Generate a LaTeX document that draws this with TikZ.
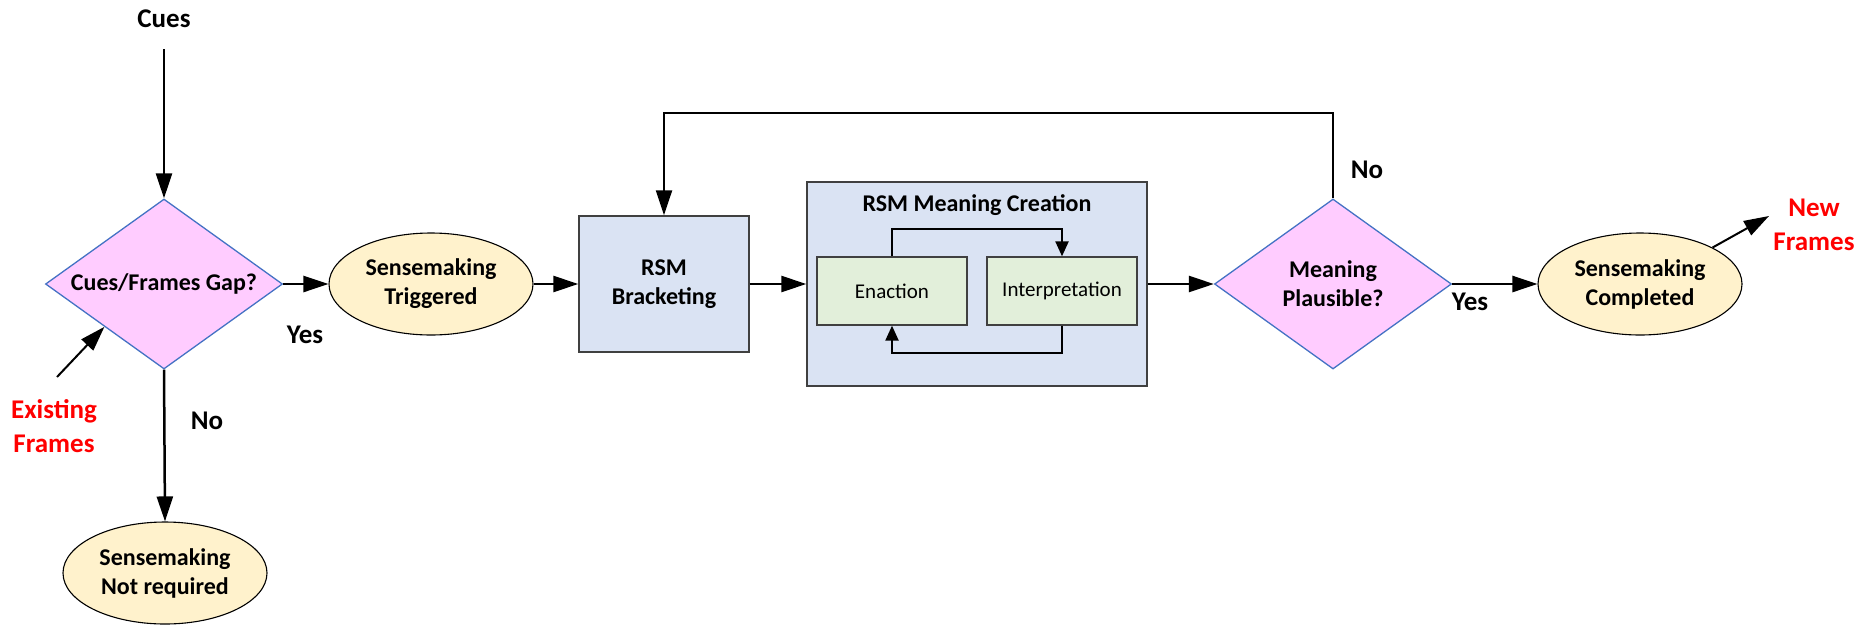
\documentclass[tikz,border=0pt]{standalone}
\usepackage{fontspec}
\setmainfont{Carlito}
\usetikzlibrary{shapes.geometric,arrows.meta}
\definecolor{dfill}{HTML}{FFCCFF}
\definecolor{dline}{HTML}{4472C4}
\definecolor{efill}{HTML}{FFF2CC}
\definecolor{bfill}{HTML}{DAE3F3}
\definecolor{gfill}{HTML}{E2EFDA}
\definecolor{bline}{HTML}{404040}
\definecolor{redtxt}{HTML}{FF0000}
\begin{document}
\begin{tikzpicture}[x=1pt,y=-1pt,
  decision/.style={diamond, aspect=1.394, draw=dline, line width=1.3pt, fill=dfill,
    minimum width=237pt, minimum height=170pt, inner sep=0pt, align=center,
    font=\bfseries\fontsize{24}{29}\selectfont},
  term/.style={ellipse, draw=black, line width=1.1pt, fill=efill,
    minimum width=204pt, minimum height=102pt, inner sep=0pt, align=center,
    font=\bfseries\fontsize{24}{29}\selectfont},
  proc/.style={rectangle, draw=bline, line width=1.4pt, fill=bfill, inner sep=0pt,
    align=center, font=\bfseries\fontsize{24}{29}\selectfont},
  sub/.style={rectangle, draw=bline, line width=1.3pt, fill=gfill, inner sep=0pt,
    minimum width=150pt, minimum height=68pt, font=\fontsize{21}{25}\selectfont},
  lbl/.style={inner sep=0pt, align=center, font=\bfseries\fontsize{27}{34}\selectfont},
  arr/.style={-{Triangle[length=25pt,width=16pt]}, line width=2.5pt},
  arrs/.style={-{Triangle[length=15pt,width=13pt]}, line width=2.2pt}
]
\useasboundingbox (0,0) rectangle (1865,627);

% nodes
\node[lbl] (cues) at (164,19) {Cues};
\coordinate (cuesend) at (164,49);
\node[decision] (d1) at (164,284) {Cues/Frames Gap?};
\node[term] (e1) at (431,284) {Sensemaking\\Triggered};
\node[proc, minimum width=170pt, minimum height=136pt] (brk) at (664,284) {RSM\\Bracketing};
\node[proc, minimum width=340pt, minimum height=204pt] (big) at (977,284) {};
\node[inner sep=0pt, font=\bfseries\fontsize{24}{29}\selectfont] (title) at (977,205) {RSM Meaning Creation};
\node[sub] (en) at (892,291) {Enaction};
\node[sub] (in) at (1062,291) {Interpretation};
\node[decision] (d2) at (1333,284) {Meaning\\Plausible?};
\node[term] (e2) at (1640,284) {Sensemaking\\Completed};
\node[term] (e3) at (165,573) {Sensemaking\\Not required};

\node[lbl] (yes1) at (305,335) {Yes};
\node[lbl] (no1) at (207,421) {No};
\node[lbl] (no2) at (1367,170) {No};
\node[lbl] (yes2) at (1470,302) {Yes};
\node[lbl, text=redtxt] (exist) at (54,426) {Existing\\Frames};
\node[lbl, text=redtxt] (newf) at (1814,225) {New\\Frames};
\coordinate (exstart) at (57,377);
\coordinate (newend) at (1769,216);

% connectors
\draw[arr] (cuesend) -- (d1.north);
\draw[arr] (d1.east) -- (e1.west);
\draw[arr] (e1.east) -- (brk.west);
\draw[arr] (brk.east) -- (big.west);
\draw[arr] (big.east) -- (d2.west);
\draw[arr] (d2.east) -- (e2.west);
\draw[arr] (d1.south) -- (e3.north);
\draw[arr, line width=2.2pt] (d2.north) -- (d2.north |- 0,113) -| (brk.north);
\draw[arr, line width=2pt] (exstart) -- (d1.south west);
\draw[arr, line width=2pt] (e2.north east) -- (newend);
\draw[arrs] (en.north) -- (en.north |- 0,229) -| (in.north);
\draw[arrs] (in.south) -- (in.south |- 0,353) -| (en.south);
\end{tikzpicture}
\end{document}
